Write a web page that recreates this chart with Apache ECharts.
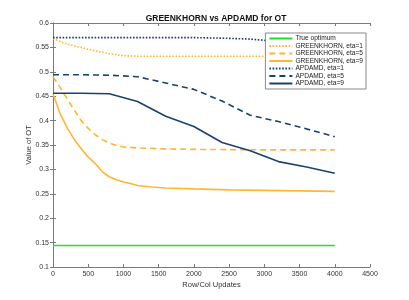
<!DOCTYPE html>
<html><head><meta charset="utf-8">
<script src="https://cdn.jsdelivr.net/npm/echarts@6/dist/echarts.min.js"></script>
<style>html,body{margin:0;padding:0;background:#fff}#c{width:409px;height:300px}</style>
</head><body><div id="c"></div>
<script>
const trueX = [0, 4000];
const trueY = [0.144, 0.144];

const g1X = [0,100,200,300,400,500,600,700,800,900,1000,1200,1600,2000,2500,3000,3500,4000];
const g1Y = [0.568,0.562,0.557,0.553,0.550,0.546,0.543,0.540,0.537,0.535,0.533,0.532,0.532,0.532,0.532,0.532,0.532,0.532];

const g5X = [0,100,200,300,400,500,600,700,800,900,1000,1200,1600,2000,3000,4000];
const g5Y = [0.490,0.468,0.445,0.422,0.400,0.384,0.371,0.361,0.354,0.349,0.346,0.344,0.342,0.341,0.340,0.340];

const g9X = [0,100,200,300,400,500,600,700,800,900,1000,1100,1200,1400,1600,2000,2500,3000,3500,4000];
const g9Y = [0.455,0.415,0.385,0.362,0.343,0.325,0.312,0.295,0.285,0.279,0.274,0.271,0.267,0.264,0.262,0.260,0.258,0.257,0.256,0.255];

const aX = [0,400,800,1200,1600,2000,2400,2800,3200,3600,4000];
const a1Y = [0.570,0.570,0.570,0.570,0.570,0.570,0.569,0.567,0.562,0.560,0.558];
const a5Y = [0.494,0.494,0.493,0.490,0.477,0.464,0.440,0.411,0.398,0.383,0.367];
const a9Y = [0.456,0.456,0.455,0.439,0.409,0.388,0.355,0.338,0.316,0.305,0.292];

const xTicks = [0,500,1000,1500,2000,2500,3000,3500,4000,4500];
const yTicks = [0.1,0.15,0.2,0.25,0.3,0.35,0.4,0.45,0.5,0.55,0.6];

const GREEN = '#22e022', ORANGE = '#ffb732', NAVY = '#1a426e';
const pair = (xs, ys) => xs.map((x, i) => [x, ys[i]]);
const FONT = 'Liberation Sans';

function mk(name, xs, ys, color, dash) {
  return {
    name, type: 'line', data: pair(xs, ys), symbol: 'none', showSymbol: false,
    lineStyle: { color, width: 1.6, type: dash }, itemStyle: { color },
    animation: false
  };
}

const chart = echarts.init(document.getElementById('c'), null, { renderer: 'canvas' });
const axisLine = { show: true, lineStyle: { color: '#7a7a7a', width: 1 } };
const axisTick = { show: true, inside: true, length: 3, lineStyle: { color: '#7a7a7a' } };
chart.setOption({
  animation: false,
  backgroundColor: '#fff',
  title: {
    text: 'GREENKHORN vs APDAMD for OT', left: 211, top: 9, textAlign: 'center',
    textStyle: { fontFamily: FONT, fontSize: 8.5, fontWeight: 'bold', color: '#111' }
  },
  grid: { left: 53, right: 39, top: 23, bottom: 33, show: false },
  legend: {
    right: 43, top: 33, orient: 'vertical',
    itemWidth: 23, itemHeight: 8, itemGap: 0.5,
    padding: [2, 3, 2, 3],
    itemStyle: { opacity: 0 },
    backgroundColor: '#fff', borderColor: '#8a8a8a', borderWidth: 1, borderRadius: 0,
    textStyle: { fontFamily: FONT, fontSize: 6.6, color: '#222', padding: [0, 0, 0, -2] },
    data: ['True optimum', 'GREENKHORN, eta=1', 'GREENKHORN, eta=5', 'GREENKHORN, eta=9', 'APDAMD, eta=1', 'APDAMD, eta=5', 'APDAMD, eta=9']
  },
  xAxis: [{
    type: 'value', min: 0, max: 4500, interval: 500,
    name: 'Row/Col Updates', nameLocation: 'middle', nameGap: 14, nameMoveOverlap: false,
    nameTextStyle: { fontFamily: FONT, fontSize: 7.5, color: '#333' },
    axisLine, axisTick, splitLine: { show: false },
    axisLabel: { fontFamily: FONT, fontSize: 7, color: '#333', margin: 4, formatter: v => String(v) }
  }, {
    type: 'value', min: 0, max: 4500, interval: 500, position: 'top',
    axisLine, axisTick, splitLine: { show: false }, axisLabel: { show: false }
  }],
  yAxis: [{
    type: 'value', min: 0.1, max: 0.6, interval: 0.05,
    name: 'Value of OT', nameLocation: 'middle', nameGap: 20, nameRotate: 90, nameMoveOverlap: false,
    nameTextStyle: { fontFamily: FONT, fontSize: 7.5, color: '#333' },
    axisLine, axisTick, splitLine: { show: false },
    axisLabel: { fontFamily: FONT, fontSize: 7, color: '#333', margin: 4,
      formatter: v => String(Math.round(v * 100) / 100) }
  }, {
    type: 'value', min: 0.1, max: 0.6, interval: 0.05, position: 'right',
    axisLine, axisTick, splitLine: { show: false }, axisLabel: { show: false }
  }],
  series: [
    mk('True optimum', trueX, trueY, GREEN, 'solid'),
    mk('GREENKHORN, eta=1', g1X, g1Y, ORANGE, [1.6, 1.6]),
    mk('GREENKHORN, eta=5', g5X, g5Y, ORANGE, [6, 4]),
    mk('GREENKHORN, eta=9', g9X, g9Y, ORANGE, 'solid'),
    mk('APDAMD, eta=1', aX, a1Y, NAVY, [1.6, 1.6]),
    mk('APDAMD, eta=5', aX, a5Y, NAVY, [6, 4]),
    mk('APDAMD, eta=9', aX, a9Y, NAVY, 'solid')
  ]
});
</script></body></html>
